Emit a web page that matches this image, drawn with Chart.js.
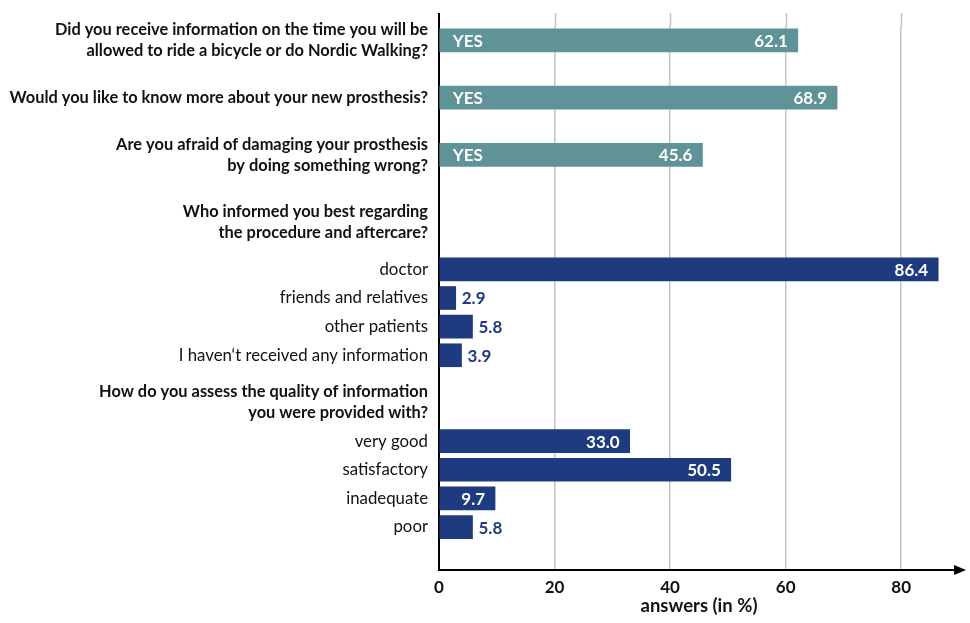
<!DOCTYPE html>
<html>
<head>
<meta charset="utf-8">
<script src="https://cdn.jsdelivr.net/npm/chart.js@4.4.1/dist/chart.umd.min.js"></script>
<style>
  html, body { margin: 0; padding: 0; background: #fff; }
  #wrap { width: 970px; height: 623px; }
</style>
</head>
<body>
<div id="wrap"><canvas id="barChart"></canvas></div>
<script>
// rows top to bottom, '' rows are just spacing
const rowLabels = [
    ['Did you receive information on the time you will be', 'allowed to ride a bicycle or do Nordic Walking?'],
    '',
    'Would you like to know more about your new prosthesis?',
    '',
    ['Are you afraid of damaging your prosthesis', 'by doing something wrong?'],
    '',
    ['', 'Who informed you best regarding', 'the procedure and aftercare?'],
    '',
    'doctor',
    'friends and relatives',
    'other patients',
    'I haven\u2018t received any information',
    '',
    ['How do you assess the quality of information', 'you were provided with?', ''],
    'very good',
    'satisfactory',
    'inadequate',
    'poor',
    ''
];
const rowValues = [62.1, null, 68.9, null, 45.6, null, null, null,
                   86.4, 2.9, 5.8, 3.9, null, null,
                   33.0, 50.5, 9.7, 5.8, null];
const rowGroups = ['question', '', 'question', '', 'question', '', 'header', '',
                   'answer', 'answer', 'answer', 'answer', '', 'header',
                   'answer', 'answer', 'answer', 'answer', ''];
const xTicks = [0, 20, 40, 60, 80];
const yesLabel = 'YES';
const axisTitle = 'answers (in %)';

const FONT = 'Lato';
const teal = '#5f9397';
const navy = '#1f3b80';
const gridColor = '#c4c4c4';

const isBold = i => rowGroups[i] === 'question' || rowGroups[i] === 'header';

// value + YES labels on the bars
const valueLabels = {
    id: 'valueLabels',
    afterDatasetsDraw(chart) {
        const ctx = chart.ctx;
        const meta = chart.getDatasetMeta(0);
        ctx.save();
        ctx.font = `bold 17px ${FONT}`;
        ctx.textBaseline = 'middle';
        meta.data.forEach((bar, i) => {
            const v = rowValues[i];
            if (v == null) return;
            const text = v.toFixed(1);
            const w = ctx.measureText(text).width;
            if (bar.x - bar.base > w + 16) {
                ctx.fillStyle = '#fff';
                ctx.textAlign = 'right';
                ctx.fillText(text, bar.x - 10, bar.y + 1);
            } else {
                ctx.fillStyle = navy;
                ctx.textAlign = 'left';
                ctx.fillText(text, bar.x + 6, bar.y + 1);
            }
            if (rowGroups[i] === 'question') {
                ctx.fillStyle = '#fff';
                ctx.textAlign = 'left';
                ctx.fillText(yesLabel, bar.base + 13, bar.y + 1);
            }
        });
        ctx.restore();
    }
};

// grid / axis running a bit above the plot, and the arrow head
const axisExtras = {
    id: 'axisExtras',
    beforeDatasetsDraw(chart) {
        const {ctx, chartArea, scales: {x}} = chart;
        const top = 13;
        ctx.save();
        ctx.strokeStyle = gridColor;
        ctx.lineWidth = 1.5;
        xTicks.forEach(t => {
            if (t === 0) return;
            const px = Math.round(x.getPixelForValue(t)) + 0.5;
            ctx.beginPath();
            ctx.moveTo(px, top);
            ctx.lineTo(px, chartArea.top);
            ctx.stroke();
        });
        ctx.strokeStyle = '#000';
        ctx.lineWidth = 2;
        ctx.beginPath();
        ctx.moveTo(chartArea.left, top);
        ctx.lineTo(chartArea.left, chartArea.top + 1);
        ctx.stroke();
        ctx.restore();
    },
    afterDraw(chart) {
        const {ctx, chartArea} = chart;
        const y = chartArea.bottom;
        const r = chartArea.right;
        ctx.save();
        ctx.fillStyle = '#000';
        ctx.beginPath();
        ctx.moveTo(r - 5, y - 5);
        ctx.lineTo(r + 7, y);
        ctx.lineTo(r - 5, y + 5);
        ctx.closePath();
        ctx.fill();
        ctx.restore();
    }
};

new Chart(document.getElementById('barChart'), {
    type: 'bar',
    data: {
        labels: rowLabels,
        datasets: [{
            data: rowValues,
            backgroundColor: ctx => rowGroups[ctx.dataIndex] === 'question' ? teal : navy,
            borderWidth: 0,
            barThickness: 23
        }]
    },
    options: {
        indexAxis: 'y',
        responsive: true,
        maintainAspectRatio: false,
        animation: false,
        layout: { padding: { top: 26, right: 11, bottom: 0, left: 0 } },
        plugins: {
            legend: { display: false },
            tooltip: { enabled: false }
        },
        scales: {
            x: {
                min: 0,
                max: 90,
                afterFit: scale => { scale.height = 53; },
                afterBuildTicks: scale => { scale.ticks = xTicks.map(v => ({ value: v })); },
                grid: {
                    color: ctx => ctx.tick && ctx.tick.value === 0 ? 'rgba(0,0,0,0)' : gridColor,
                    lineWidth: 1.5,
                    drawTicks: false
                },
                border: { color: '#000', width: 2 },
                ticks: {
                    padding: 7,
                    color: '#111',
                    font: { family: FONT, size: 17, weight: 'bold' }
                },
                title: {
                    display: true,
                    text: axisTitle,
                    color: '#111',
                    padding: { top: 2, bottom: 6 },
                    font: { family: FONT, size: 18.5, weight: 'bold' }
                }
            },
            y: {
                afterFit: scale => { scale.width = 439; },
                grid: { display: false, drawTicks: false },
                border: { color: '#000', width: 2 },
                ticks: {
                    autoSkip: false,
                    padding: 11,
                    color: '#111',
                    font: ctx => ({
                        family: FONT,
                        size: isBold(ctx.index) ? 16.4 : 16.8,
                        lineHeight: 1.27,
                        weight: isBold(ctx.index) ? 'bold' : 'normal'
                    })
                }
            }
        }
    },
    plugins: [valueLabels, axisExtras]
});
</script>
</body>
</html>
